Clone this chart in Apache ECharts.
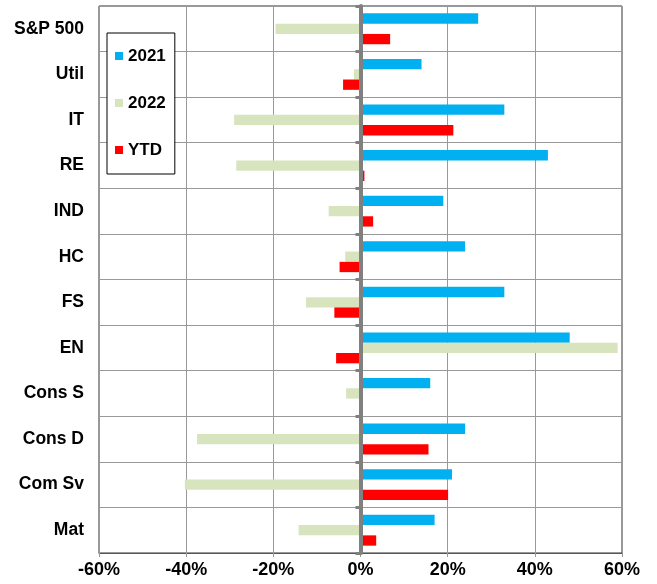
<!DOCTYPE html>
<html>
<head>
<meta charset="utf-8">
<script src="https://cdn.jsdelivr.net/npm/echarts@6/dist/echarts.min.js"></script>
<style>
html,body{margin:0;padding:0;background:#fff;}
#chart{width:657px;height:584px;}
</style>
</head>
<body>
<div id="chart"></div>
<script>
const categories = ['S&P 500','Util','IT','RE','IND','HC','FS','EN','Cons S','Cons D','Com Sv','Mat'];
const seriesNames = ['2021','2022','YTD'];
const values2021 = [27, 14, 33, 43, 19, 24, 33, 48, 16, 24, 21, 17];
const values2022 = [-19.5, -1.5, -29, -28.5, -7.3, -3.5, -12.5, 59, -3.3, -37.5, -40.3, -14.2];
const valuesYTD  = [6.8, -4, 21.3, 0.9, 2.9, -4.8, -6, -5.6, 0, 15.6, 20.1, 3.6];
const xTicks = { min: -60, max: 60, interval: 20 };
const colors = ['#00B0F0', '#D7E4BD', '#FF0000'];

const FONT = 'Liberation Sans, Arial, sans-serif';
const chart = echarts.init(document.getElementById('chart'));
const dataSets = [values2021, values2022, valuesYTD];

chart.setOption({
  animation: false,
  backgroundColor: '#fff',
  grid: { left: 99, right: 35, top: 6, bottom: 31, show: true, borderColor: '#333', borderWidth: 1 },
  legend: {
    orient: 'vertical',
    left: 107, top: 33,
    data: seriesNames,
    icon: 'rect',
    itemWidth: 8, itemHeight: 8,
    itemGap: 27,
    padding: [13, 9, 14, 8],
    borderColor: '#000', borderWidth: 1,
    backgroundColor: '#fff',
    textStyle: { fontFamily: FONT, fontWeight: 'bold', fontSize: 17, color: '#000', lineHeight: 20 }
  },
  xAxis: {
    type: 'value',
    min: xTicks.min, max: xTicks.max, interval: xTicks.interval,
    axisLine: { show: true, onZero: false, lineStyle: { color: '#555' } },
    axisTick: { show: true, length: 4, lineStyle: { color: '#999' } },
    splitLine: { show: true, lineStyle: { color: '#999', width: 1 } },
    axisLabel: { formatter: '{value}%', fontFamily: FONT, fontWeight: 'bold', fontSize: 18, color: '#000', margin: 8 }
  },
  yAxis: [
    {
      type: 'category', data: categories, inverse: true, position: 'left',
      axisLine: { show: false, onZero: false },
      axisTick: { show: false },
      splitLine: { show: true, lineStyle: { color: '#999', width: 1 } },
      axisLabel: { fontFamily: FONT, fontWeight: 'bold', fontSize: 17.5, color: '#000', margin: 15 }
    },
    {
      type: 'category', data: categories, inverse: true, position: 'left', z: 10,
      axisLine: { show: true, onZero: true, lineStyle: { color: '#808080', width: 4 } },
      axisTick: { show: true, length: 5, lineStyle: { color: '#808080', width: 3 } },
      axisLabel: { show: false },
      splitLine: { show: false }
    }
  ],
  series: seriesNames.map((name, i) => ({
    name: name,
    type: 'bar',
    yAxisIndex: 0,
    data: dataSets[i],
    barWidth: 10.3,
    barGap: '0%',
    itemStyle: { color: colors[i] }
  }))
});
</script>
</body>
</html>
